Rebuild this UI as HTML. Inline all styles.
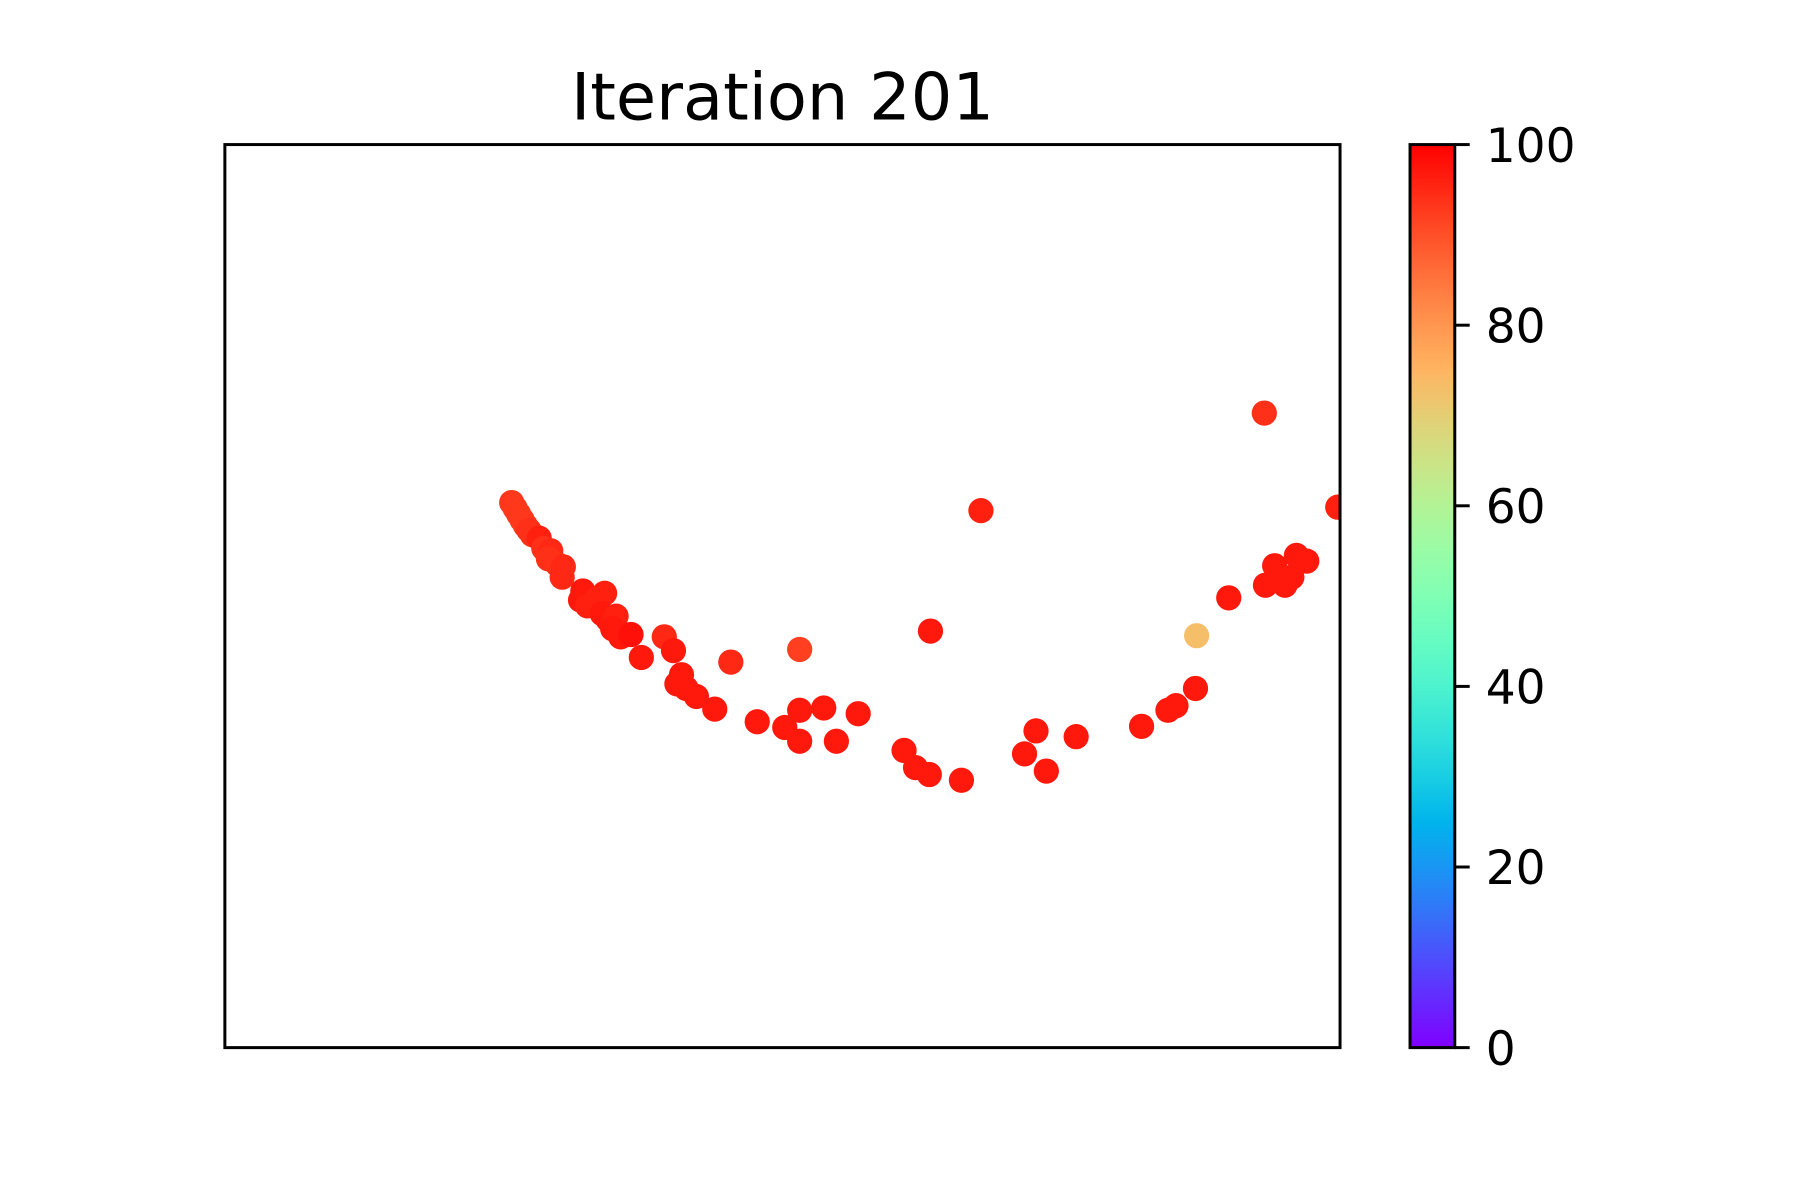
<!DOCTYPE html>
<html><head><meta charset="utf-8"><style>
html,body{margin:0;padding:0;background:#fff}
svg{display:block}
text{font-family:"DejaVu Sans","Liberation Sans",sans-serif;fill:#000}
</style></head><body>
<svg id="chart" width="1800" height="1200" viewBox="0 0 1568.9 1045.8" preserveAspectRatio="none" xmlns="http://www.w3.org/2000/svg">
<defs>
<linearGradient id="rb" x1="0" y1="1" x2="0" y2="0"></linearGradient>
</defs>
<text x="682" y="104" font-size="57" text-anchor="middle">Iteration 201</text>
<g id="points"></g>
<rect x="196" y="126" width="972" height="787" fill="none" stroke="#000" stroke-width="2.6"/>
<rect x="1229" y="126" width="39" height="787" fill="url(#rb)" stroke="#000" stroke-width="2.6"/>
<g id="cbticks"></g>
</svg>
<script>
const xs=[250,253,256,259,262,265,268,274,278,284,282,290,295,294,312,310,316,324,331,329,334,341,338,345,354,363,383,391,398,394,402,411,427,441,464,488,501,501,501,522,533,552,592,602,614,615,642,659,697,707,716,742,799,822,829,846,847,875,906,907,915,924,930,934,943,970];
const ys=[475,470,465,460,455,451,447,444,435,433,426,421,419,410,398,390,385,391,396,378,373,376,365,358,360,340,358,346,325,317,313,306,295,336,284,279,294,347,267,296,267,291,259,244,238,363,233,468,256,276,241,271,280,294,298,313,359,392,553,403,420,403,410,429,424,471];
const vals=[93,93,93,93,93,94,94,96,94,95,94,94,95,95,97,97,96,96,96,97,97,96,97,97,98,97,95,97,97,97,97,97,97,95,97,97,97,92,97,97,97,97,97,97,97,97,97,96,97,97,97,97,97,97,97,97,73,97,94,97,97,97,97,97,97,96];
const cbTicks=[0,20,40,60,80,100];
const X0=196,X1=1168,Y0=913,Y1=126;
const sx=v=>X0+v/972*(X1-X0);
const sy=v=>Y0-v/787*(Y0-Y1);
const sc=v=>Y0-v/100*(Y0-Y1);
function rainbow(t){
  const r=Math.min(1,Math.max(0,Math.abs(2*t-0.5)));
  const g=Math.max(0,Math.sin(Math.PI*t));
  const b=Math.max(0,Math.cos(Math.PI*t/2));
  return `rgb(${Math.round(r*255)},${Math.round(g*255)},${Math.round(b*255)})`;
}
const NS="http://www.w3.org/2000/svg";
const grad=document.getElementById('rb');
for(let i=0;i<=20;i++){
  const s=document.createElementNS(NS,'stop');
  s.setAttribute('offset',i/20);
  s.setAttribute('stop-color',rainbow(i/20));
  grad.appendChild(s);
}
const pg=document.getElementById('points');
xs.forEach((x,i)=>{
  const c=document.createElementNS(NS,'circle');
  
  
  c.setAttribute('cx',sx(x));c.setAttribute('cy',sy(ys[i]));
  c.setAttribute('r',11);c.setAttribute('fill',rainbow(vals[i]/100));
  pg.appendChild(c);
});
const svg=document.getElementById('chart');
const cp=document.createElementNS(NS,'clipPath');cp.id='clip';
const cr=document.createElementNS(NS,'rect');
cr.setAttribute('x',X0);cr.setAttribute('y',Y1);cr.setAttribute('width',X1-X0);cr.setAttribute('height',Y0-Y1);
cp.appendChild(cr);svg.querySelector('defs').appendChild(cp);
pg.setAttribute('clip-path','url(#clip)');
const tg=document.getElementById('cbticks');
cbTicks.forEach(t=>{
  const y=sc(t);
  const l=document.createElementNS(NS,'line');
  
  
  l.setAttribute('x1',1268);l.setAttribute('x2',1281);l.setAttribute('y1',y);l.setAttribute('y2',y);
  l.setAttribute('stroke','#000');l.setAttribute('stroke-width',2.6);
  tg.appendChild(l);
  const tx=document.createElementNS(NS,'text');
  
  
  tx.setAttribute('x',1295);tx.setAttribute('y',y+15);tx.setAttribute('font-size',41);
  tx.textContent=t;
  tg.appendChild(tx);
});
</script>
</body></html>
